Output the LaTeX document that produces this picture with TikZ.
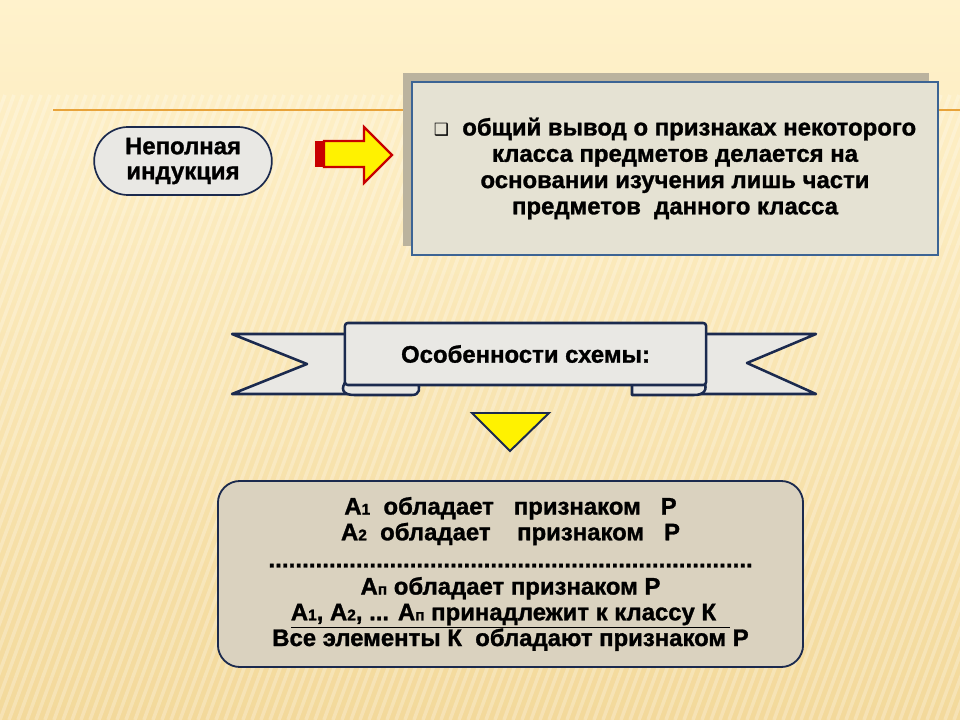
\documentclass[tikz,border=0pt]{standalone}
\usepackage{fontspec}
\setmainfont{Liberation Sans}[BoldFeatures={FakeBold=1.2}]
\newfontfamily\symfont{DejaVu Sans}
\usetikzlibrary{shapes.misc,shadows}

\definecolor{creamtop}{HTML}{FFF2CC}
\definecolor{creambot}{HTML}{F3D99B}
\definecolor{navyline}{HTML}{1B2A4E}
\definecolor{steelline}{HTML}{3C6494}
\definecolor{paper}{HTML}{E9E8E4}
\definecolor{defpaper}{HTML}{E5E2D3}
\definecolor{shadowgray}{HTML}{BBB39E}
\definecolor{schemepaper}{HTML}{DAD2BF}
\definecolor{rulecol}{HTML}{E8A33A}
\definecolor{arrowred}{HTML}{C80000}

\newcommand\sm[1]{{\fontsize{11}{11}\selectfont #1}}

\tikzset{
    pill/.style={draw=navyline, line width=1.2pt, fill=paper, rounded rectangle,
        minimum width=4.675cm, minimum height=1.7cm, align=center,
        font=\fontsize{17}{17.8}\selectfont\bfseries},
    defbox/.style={draw=steelline, line width=1.8pt, fill=defpaper,
        minimum width=13.15cm, minimum height=4.325cm, align=center,
        font=\fontsize{17}{18.7}\selectfont\bfseries,
        general shadow={shadow xshift=-0.225cm, shadow yshift=0.225cm, fill=shadowgray}},
    ribbon/.style={draw=navyline, line width=1.8pt, fill=paper, line join=round},
    band/.style={ribbon, rounded corners=2pt, minimum width=9.025cm, minimum height=1.55cm,
        font=\fontsize{17}{18}\selectfont\bfseries},
    schemebox/.style={draw=navyline, line width=1.3pt, fill=schemepaper, rounded corners=0.55cm,
        minimum width=14.625cm, minimum height=4.65cm, align=center,
        font=\fontsize{17}{18.3}\selectfont\bfseries},
    stripe/.style={white, opacity=0.25, line width=2.5pt}
}

\begin{document}
\begin{tikzpicture}[x=0.025cm, y=-0.025cm]
    % background
    \shade[top color=creamtop, bottom color=creambot] (0,0) rectangle (960,720);
    \useasboundingbox (0,0) rectangle (960,720);
    \begin{scope}
        \clip (0,95) rectangle (960,720);
        \foreach \s in {-30,...,110}{
            \draw[stripe] (\s*9,720) -- ++(230,-625);
        }
    \end{scope}
    \draw[rulecol, line width=1.6pt] (53,110) -- (960,110);

    % top row
    \node[pill] (kind) at (183,161) {Неполная\\индукция};
    \node[defbox] (def) at (675,168.5) {{\symfont\fontsize{12}{12}\selectfont ❑}\ \ общий вывод о признаках некоторого\\
        класса предметов делается на\\
        основании изучения лишь части\\
        предметов\ \ данного класса};
    \fill[arrowred] (315,141) rectangle (324,167);
    \draw[arrowred, line width=1.6pt, fill=yellow, line join=miter]
        (324,141) -- (364,141) -- (364,127) -- (392,155) -- (364,183) -- (364,167) -- (324,167) -- cycle;

    % ribbon
    \draw[ribbon] (352,334) -- (232,334) -- (307,364) -- (232,394) -- (352,394) -- cycle;
    \draw[ribbon] (699,334) -- (816,334) -- (747,363) -- (816,394) -- (699,394) -- cycle;
    \draw[ribbon] (347,380) .. controls (340,388) and (342,395) .. (354,395) -- (412,395)
        .. controls (420,395) and (420,388) .. (418,383) -- (347,383);
    \draw[ribbon] (632,383) -- (632,395) -- (694,395)
        .. controls (704,395) and (708,390) .. (704,381) -- (632,383);
    \node[band] (feat) at (525.5,354) {Особенности схемы:};

    % pointer down
    \draw[navyline, line width=1.4pt, fill=yellow, line join=miter] (472,413) -- (549,413) -- (510,451) -- cycle;

    % scheme
    \node[schemebox] (scheme) at (510.5,574) {%
        А\sm{1}\ \ обладает\ \ \ признаком\ \ \ Р\\
        А\sm{2}\ \ обладает\ \ \ \ признаком\ \ \ Р\\[1pt]
        \hbox to 12.1cm{\xleaders\hbox{.}\hfill}\\[1pt]
        А\sm{п} обладает признаком Р\\
        \underline{А\sm{1}, А\sm{2}, ... А\sm{п} принадлежит к классу К\hspace{0.35cm}}\\
        Все элементы К\ \ обладают признаком Р};
\end{tikzpicture}
\end{document}
